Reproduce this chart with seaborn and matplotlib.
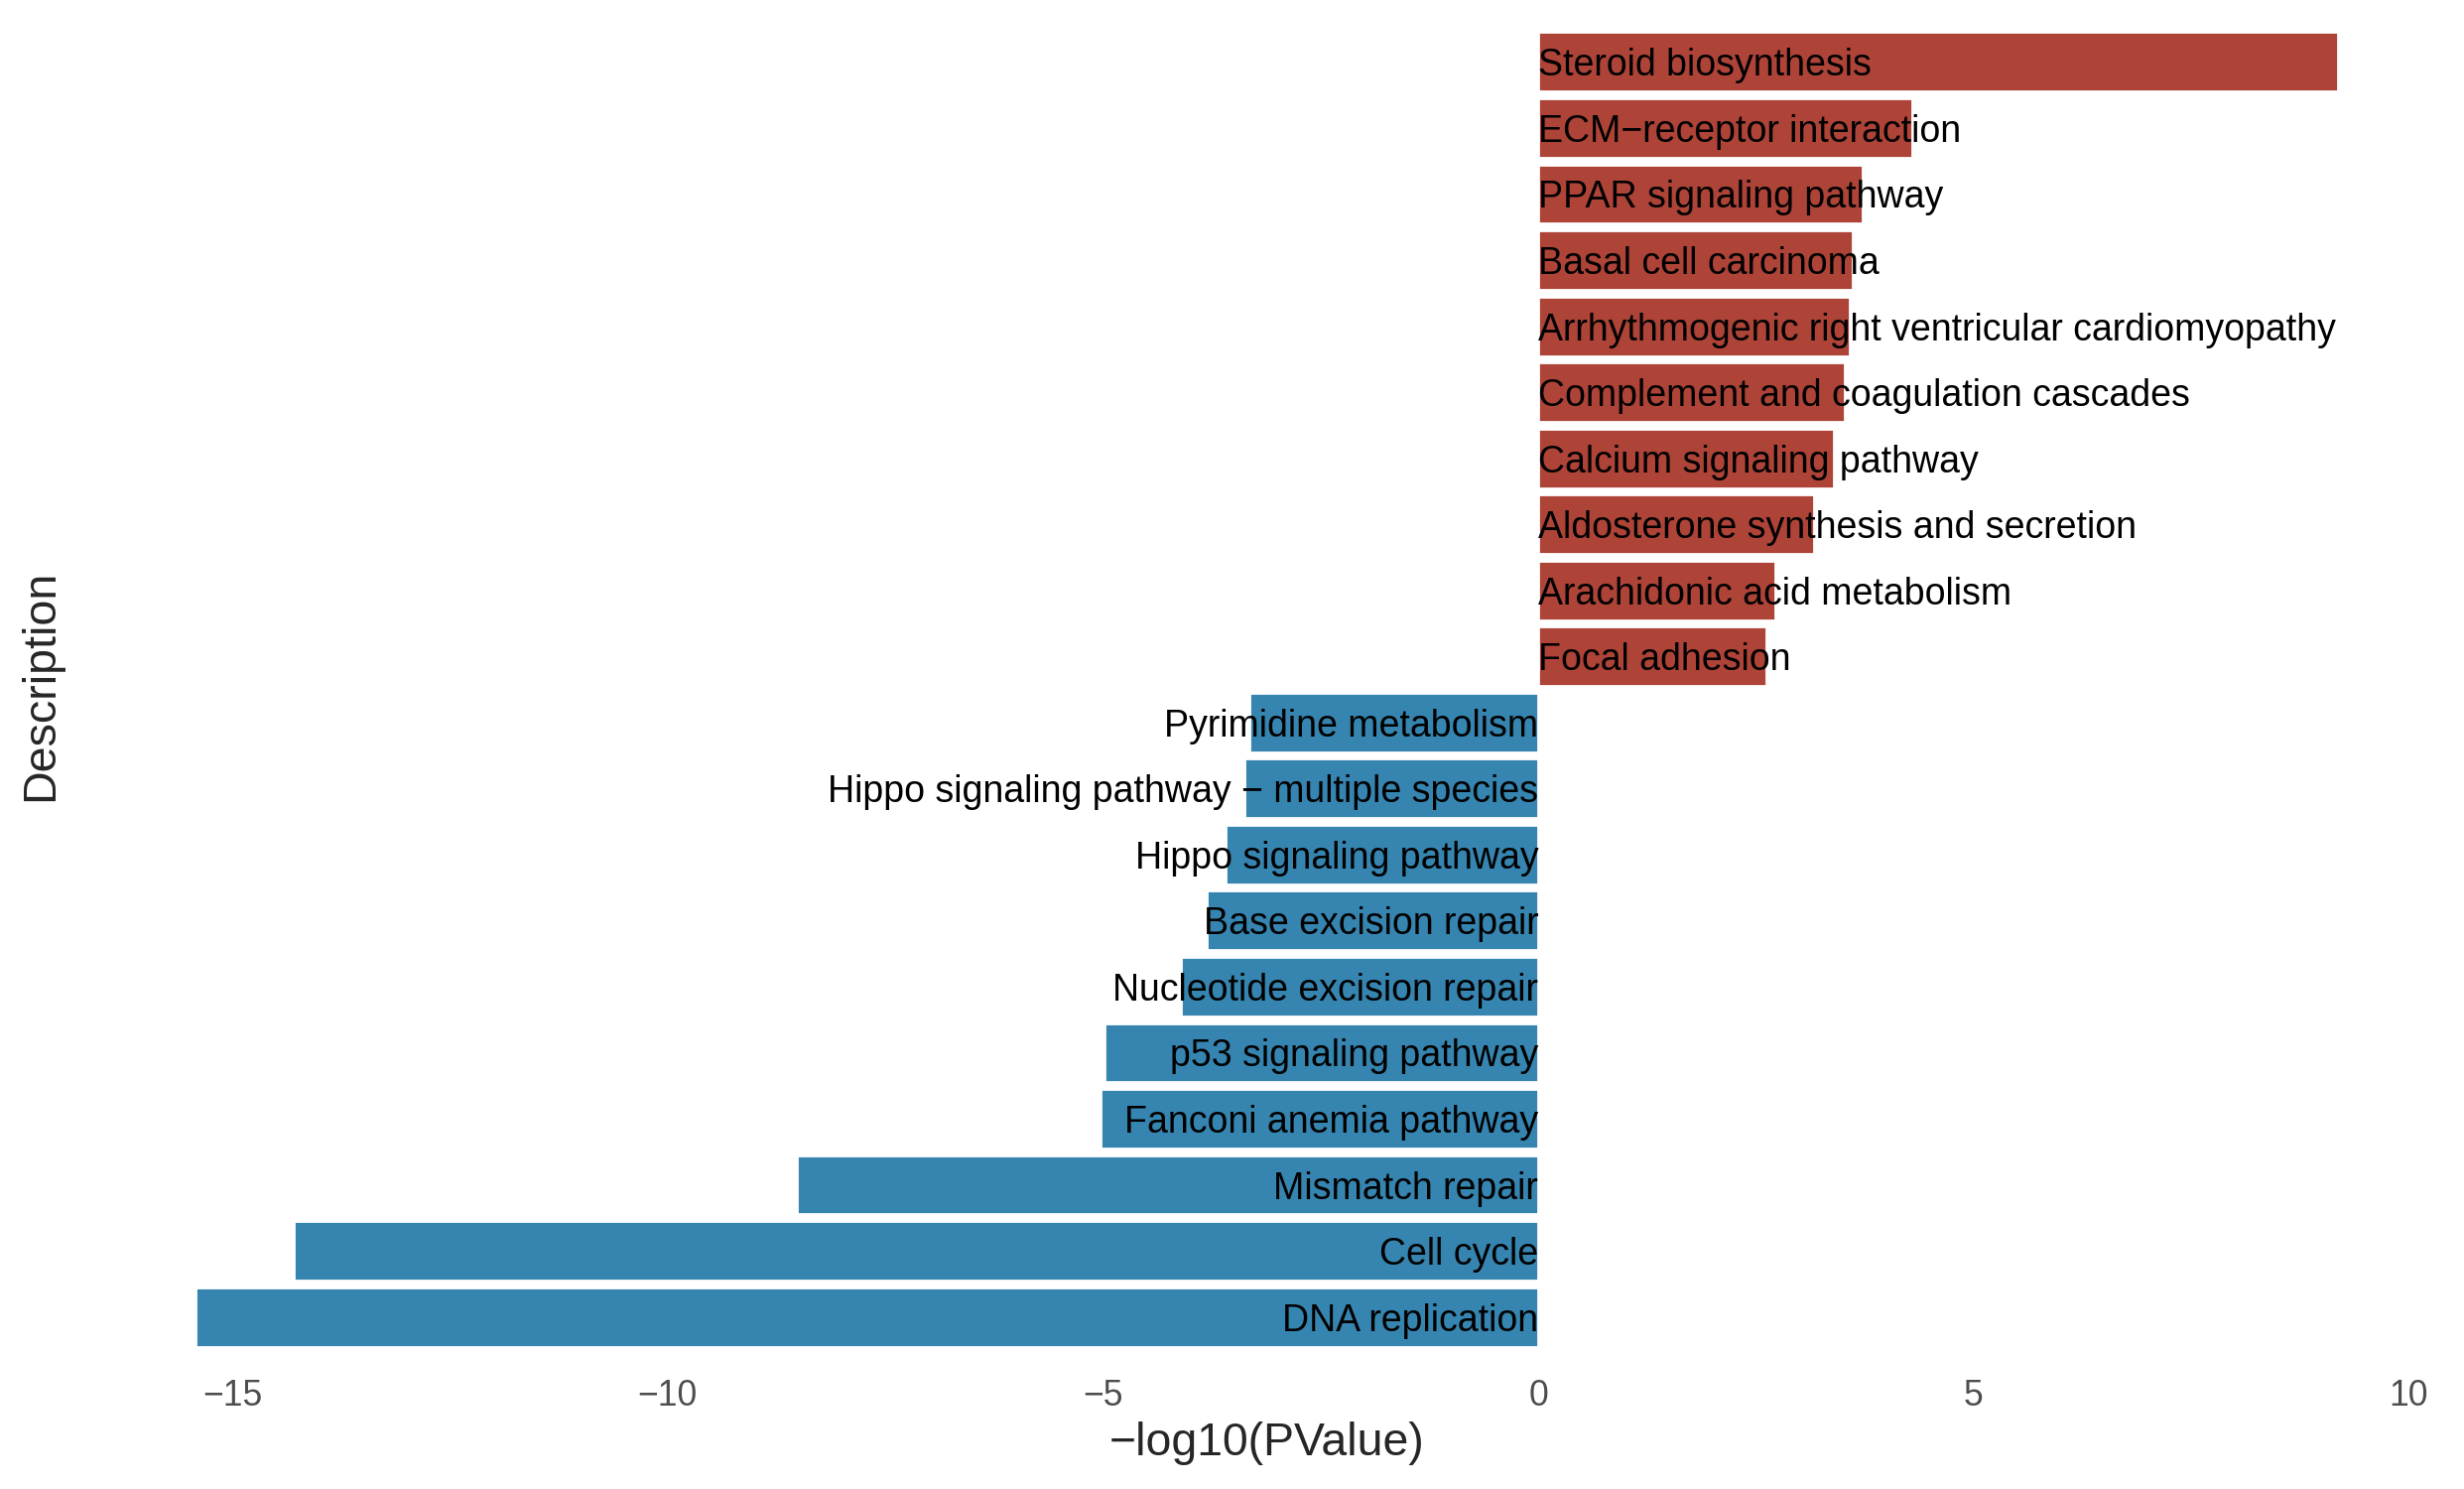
import numpy as np
import pandas as pd
import matplotlib
matplotlib.use("Agg")
import matplotlib.pyplot as plt
import seaborn as sns

# ---------------------------------------------------------
# data
# ---------------------------------------------------------
pathways = [
    "Steroid biosynthesis",
    "ECM\u2212receptor interaction",
    "PPAR signaling pathway",
    "Basal cell carcinoma",
    "Arrhythmogenic right ventricular cardiomyopathy",
    "Complement and coagulation cascades",
    "Calcium signaling pathway",
    "Aldosterone synthesis and secretion",
    "Arachidonic acid metabolism",
    "Focal adhesion",
    "Pyrimidine metabolism",
    "Hippo signaling pathway \u2212 multiple species",
    "Hippo signaling pathway",
    "Base excision repair",
    "Nucleotide excision repair",
    "p53 signaling pathway",
    "Fanconi anemia pathway",
    "Mismatch repair",
    "Cell cycle",
    "DNA replication",
]
log_p = [
    9.19, 4.30, 3.72, 3.61, 3.58, 3.52, 3.39, 3.17, 2.72, 2.62,
    -3.32, -3.38, -3.59, -3.81, -4.11, -4.98, -5.03, -8.52, -14.30, -15.42,
]
direction = ["up"] * 10 + ["down"] * 10
colors = {"up": "#AE4338", "down": "#3685B0"}

df = pd.DataFrame({"Description": pathways, "logP": log_p, "dir": direction})

sns.set_style("white")
plt.rcParams["font.family"] = ["Liberation Sans", "DejaVu Sans"]

fig = plt.figure(figsize=(2483 / 200, 1500 / 200), dpi=200)
ax = fig.add_axes([0.036, 0.089, 0.9565, 0.896])

sns.barplot(data=df, x="logP", y="Description", hue="dir", palette=colors,
            order=pathways, orient="h", width=0.9, dodge=False,
            legend=False, saturation=1, ax=ax)

# labels start at zero and run over the bar
for i, (name, v) in enumerate(zip(pathways, log_p)):
    ax.text(0, i, name, ha="left" if v > 0 else "right", va="center_baseline",
            fontsize=13.5, color="black")

lo, hi = min(log_p), max(log_p)
pad = 0.05 * (hi - lo)
ax.set_xlim(lo - pad, hi + pad)
ax.set_ylim(len(pathways) - 0.4, -0.6)

ax.set_xticks([-15, -10, -5, 0, 5, 10])
ax.tick_params(axis="x", length=0, labelsize=12.8, labelcolor="#4D4D4D", pad=8)
ax.set_yticks([])
ax.set_xlabel("\u2212log10(PValue)", fontsize=16.7, labelpad=3)
ax.set_ylabel("Description", fontsize=16.8)
ax.yaxis.set_label_coords(-0.011, 0.503)
for s in ax.spines.values():
    s.set_visible(False)

fig.savefig("out.png", dpi=200)
plt.close(fig)
